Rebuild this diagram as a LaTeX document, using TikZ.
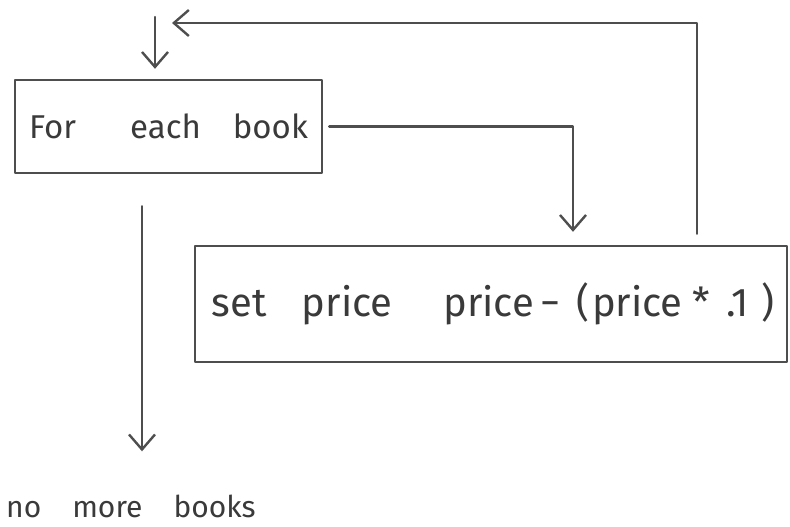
\documentclass[tikz,border=0pt]{standalone}
\usepackage{fontspec}
\setmainfont{Fira Sans}
\usetikzlibrary{arrows.meta}
\definecolor{pencil}{HTML}{4E4E4E}
\definecolor{ink}{HTML}{3A3A3A}
\begin{document}
\begin{tikzpicture}[x=1pt,y=-1pt,
  sketch/.style={draw=pencil, line width=2.4pt, line join=round, line cap=round},
  box/.style={sketch, rectangle, inner sep=0pt, text=ink},
  flow/.style={sketch, -{Straight Barb[length=15pt,width=26pt,line width=2.4pt]}},
]
\useasboundingbox (0,0) rectangle (790,527);

% the loop head and its body
\node[box, minimum width=307pt, minimum height=93pt,
      font=\fontsize{33}{37}\selectfont] (loop) at (168.5,126.5)
  {For\hspace{54pt}each\hspace{32pt}book};
\node[box, minimum width=592pt, minimum height=116pt,
      font=\fontsize{40}{44}\selectfont] (update) at (491,304)
  {\hspace{4pt}set\hspace{35pt}price\hspace{51pt}price\hspace{6pt}−\hspace{16pt}(\hspace{3pt}price\hspace{10pt}*\hspace{16pt}.1\hspace{12pt})};

% exit label
\node[text=ink, inner sep=0pt, anchor=base west,
      font=\fontsize{30}{34}\selectfont] (done) at (6,517)
  {no\hspace{31pt}more\hspace{31pt}books};

% helper columns and the loose arrow ends
\coordinate (entry) at (155,17);
\coordinate (back) at (172,23);
\coordinate (rx) at (697,0);
\coordinate (tx) at (573,0);
\coordinate (dx) at (142,0);

% connectors
\draw[flow, shorten >=10pt] (entry) -- (entry |- loop.north);
\draw[flow, shorten <=11pt] (update.north -| rx) -- (rx |- back) -- (back);
\draw[flow, shorten <=6pt, shorten >=13pt] (loop.east) -- (loop.east -| tx) -- (tx |- update.north);
\draw[flow, shorten <=32pt, shorten >=43pt] (loop.south -| dx) -- (dx |- done.north);
\end{tikzpicture}
\end{document}
